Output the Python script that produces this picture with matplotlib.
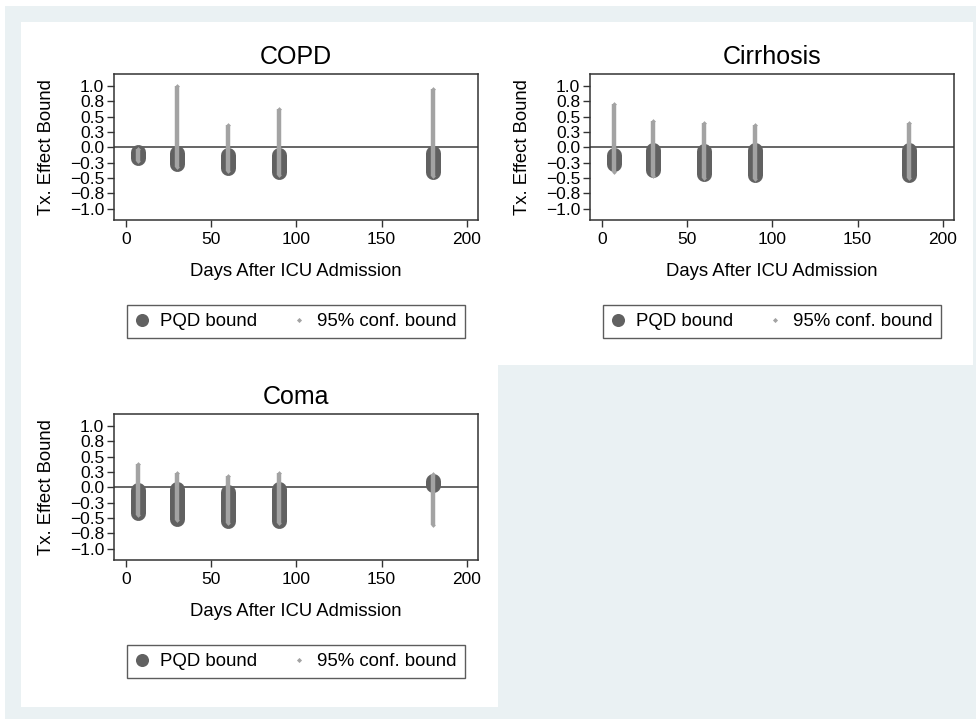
import matplotlib
matplotlib.use("Agg")
import matplotlib.pyplot as plt
from matplotlib.patches import Rectangle
from matplotlib.lines import Line2D

plt.rcParams['font.family'] = ['Liberation Sans', 'DejaVu Sans']

# days after ICU admission
days = [7, 30, 60, 90, 180]

# PQD bound (lower, upper) and 95% conf. bound (lower, upper) per condition
copd_pqd_lo = [-0.17, -0.27, -0.33, -0.40, -0.41]
copd_pqd_hi = [-0.07, -0.10, -0.12, -0.12, -0.10]
copd_ci_lo = [-0.23, -0.32, -0.39, -0.45, -0.46]
copd_ci_hi = [-0.03, 1.00, 0.37, 0.63, 0.95]

cirr_pqd_lo = [-0.27, -0.37, -0.44, -0.455, -0.455]
cirr_pqd_hi = [-0.12, -0.045, -0.065, -0.045, -0.045]
cirr_ci_lo = [-0.41, -0.46, -0.50, -0.52, -0.50]
cirr_ci_hi = [0.70, 0.43, 0.39, 0.37, 0.39]

coma_pqd_lo = [-0.42, -0.51, -0.55, -0.55, 0.03]
coma_pqd_hi = [-0.045, -0.02, -0.075, -0.03, 0.10]
coma_ci_lo = [-0.45, -0.54, -0.58, -0.58, -0.62]
coma_ci_hi = [0.38, 0.23, 0.19, 0.23, 0.21]

yticks = [-1.0, -0.75, -0.5, -0.25, 0.0, 0.25, 0.5, 0.75, 1.0]
ytick_labels = ['\u22121.0', '\u22120.8', '\u22120.5', '\u22120.3', '0.0',
                '0.3', '0.5', '0.8', '1.0']
xticks = [0, 50, 100, 150, 200]

DARK = '#616161'
LIGHT = '#a3a3a3'
BG = '#eaf1f3'
W, H = 977, 719


def px(x0, y0, x1, y1):
    """pixel box -> figure fraction rect"""
    return [x0 / W, 1 - y1 / H, (x1 - x0) / W, (y1 - y0) / H]


fig = plt.figure(figsize=(9.77, 7.19), dpi=100)
fig.patch.set_facecolor('white')
fig.patches.append(Rectangle((5 / W, 0), 971 / W, 713 / H, transform=fig.transFigure,
                             facecolor=BG, edgecolor='none', zorder=-10))
for box in [(21, 22, 498, 365), (498, 22, 973, 365), (21, 365, 498, 707)]:
    r = px(*box)
    fig.patches.append(Rectangle((r[0], r[1]), r[2], r[3], transform=fig.transFigure,
                                 facecolor='white', edgecolor='none', zorder=-9))

panels = [
    ('COPD', (114, 74, 478, 220), copd_pqd_lo, copd_pqd_hi, copd_ci_lo, copd_ci_hi),
    ('Cirrhosis', (590, 74, 954, 220), cirr_pqd_lo, cirr_pqd_hi, cirr_ci_lo, cirr_ci_hi),
    ('Coma', (114, 414, 478, 560), coma_pqd_lo, coma_pqd_hi, coma_ci_lo, coma_ci_hi),
]

for title, box, plo, phi, clo, chi in panels:
    ax = fig.add_axes(px(*box))
    ax.axhline(0, color='#3c3c3c', lw=1.1, zorder=1)
    ax.vlines(days, plo, phi, colors=DARK, linewidth=10.8, capstyle='round', zorder=2)
    ax.vlines(days, clo, chi, colors=LIGHT, linewidth=3.2, capstyle='butt', zorder=3)
    ax.plot(days + days, clo + chi, linestyle='none', marker='D', markersize=2.4,
            color=LIGHT, markeredgewidth=0, zorder=3)

    ax.set_xlim(-7, 206.5)
    ax.set_ylim(-1.185, 1.195)
    ax.set_xticks(xticks)
    ax.set_yticks(yticks)
    ax.set_yticklabels(ytick_labels)
    ax.tick_params(axis='both', direction='out', length=5, width=1.0, color='#333333',
                   labelsize=12.5, pad=2)
    ax.tick_params(axis='x', pad=4)
    for s in ax.spines.values():
        s.set_linewidth(1.1)
        s.set_color('#333333')

    ax.set_title(title, fontsize=18, pad=7)
    ax.set_ylabel('Tx. Effect Bound', fontsize=13.3)
    ax.yaxis.set_label_coords(-0.162, 0.5)
    ax.set_xlabel('Days After ICU Admission', fontsize=13.3)
    ax.xaxis.set_label_coords(0.5, -0.295)

    handles = [
        Line2D([], [], linestyle='none', marker='o', markersize=9.4, color=DARK,
               markeredgewidth=0, label='PQD bound'),
        Line2D([], [], linestyle='none', marker='D', markersize=2.6, color=LIGHT,
               markeredgewidth=0, label='95% conf. bound'),
    ]
    cx = (box[0] + box[2]) / 2 / W
    cy = 1 - (box[3] + 101.5) / H
    leg = ax.legend(handles=handles, ncol=2, loc='center', bbox_to_anchor=(cx, cy),
                    bbox_transform=fig.transFigure, fontsize=13.4, frameon=True,
                    fancybox=False, edgecolor='#333333', borderpad=0.45,
                    handlelength=0.7, handletextpad=0.6, columnspacing=1.9,
                    borderaxespad=0)
    leg.get_frame().set_linewidth(1.0)

fig.savefig('out.png', dpi=100)
